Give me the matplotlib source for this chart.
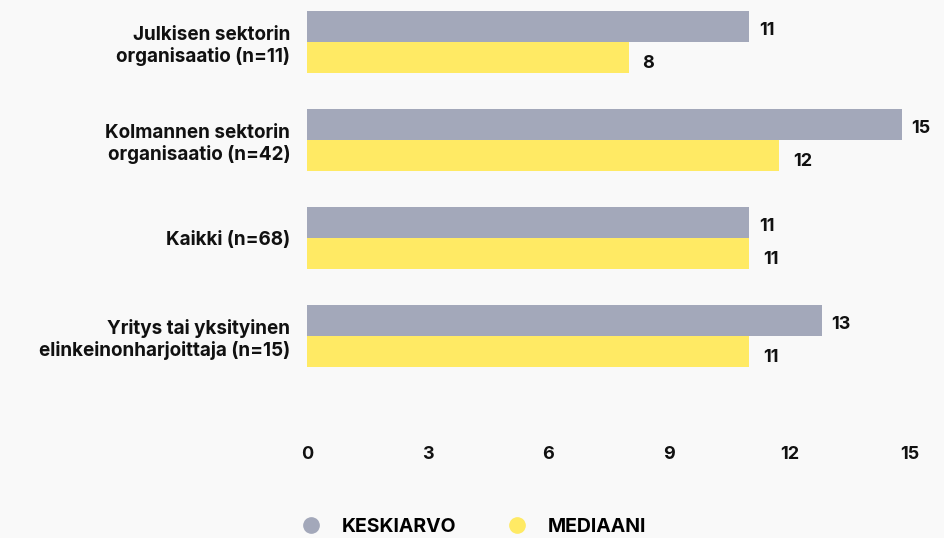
import matplotlib.pyplot as plt
from matplotlib.lines import Line2D
import numpy as np

plt.rcParams['font.family'] = ['Inter', 'DejaVu Sans']

categories = ['Julkisen sektorin\norganisaatio (n=11)',
              'Kolmannen sektorin\norganisaatio (n=42)',
              'Kaikki (n=68)',
              'Yritys tai yksityinen\nelinkeinonharjoittaja (n=15)']
keskiarvo = [11.0, 14.8, 11.0, 12.8]
mediaani = [8.0, 11.75, 11.0, 11.0]
xticks = [0, 3, 6, 9, 12, 15]

bg = '#f9f9f9'
gray = '#a3a8ba'
yellow = '#ffea64'
ink = '#111111'

W, H = 945, 538
fig = plt.figure(figsize=(W/100, H/100), dpi=100, facecolor=bg)

# axes placed in pixel terms: x=0 at 307px, 40.2px per unit
x0 = 307
top_px, bot_px = 0, 420
ax = fig.add_axes([x0/W, 1-bot_px/H, (W-x0)/W, (bot_px-top_px)/H])
ax.set_facecolor(bg)

spacing = 98.0
h = 31/spacing
y = np.arange(len(categories))

ax.barh(y - h/2, keskiarvo, height=h, color=gray)
ax.barh(y + h/2, mediaani, height=h, color=yellow)

for yi, v in zip(y - h/2, keskiarvo):
    ax.annotate(f'{v:.0f}', (v, yi), xytext=(7, -3), textcoords='offset points',
                ha='left', va='center', fontsize=13, fontweight='bold', color=ink)
for yi, v in zip(y + h/2, mediaani):
    ax.annotate(f'{v:.0f}', (v, yi), xytext=(10, -4), textcoords='offset points',
                ha='left', va='center', fontsize=13, fontweight='bold', color=ink)

ax.set_xlim(0, (W-x0)/40.2)
ax.set_ylim((bot_px-42)/spacing, (top_px-42)/spacing)
ax.set_xticks(xticks)
ax.set_xticklabels([str(t) for t in xticks], fontsize=13, fontweight='bold', color=ink)
ax.set_yticks(y)
ax.set_yticklabels(categories, fontsize=13.6, fontweight='bold', color=ink,
                   linespacing=1.2)
ax.tick_params(axis='x', length=0, pad=19)
ax.tick_params(axis='y', length=0, pad=12)
for s in ax.spines.values():
    s.set_visible(False)

handles = [Line2D([], [], marker='o', linestyle='none', markersize=11,
                  markerfacecolor=gray, markeredgecolor=gray),
           Line2D([], [], marker='o', linestyle='none', markersize=11,
                  markerfacecolor=yellow, markeredgecolor=yellow)]
fig.legend(handles, ['KESKIARVO', 'MEDIAANI'], loc='center',
           bbox_to_anchor=(469/W, 1-527/H), ncol=2, frameon=False,
           handletextpad=0.6, columnspacing=2.1,
           prop={'size': 14, 'weight': 'bold'})

fig.savefig('out.png', dpi=100, facecolor=bg)
